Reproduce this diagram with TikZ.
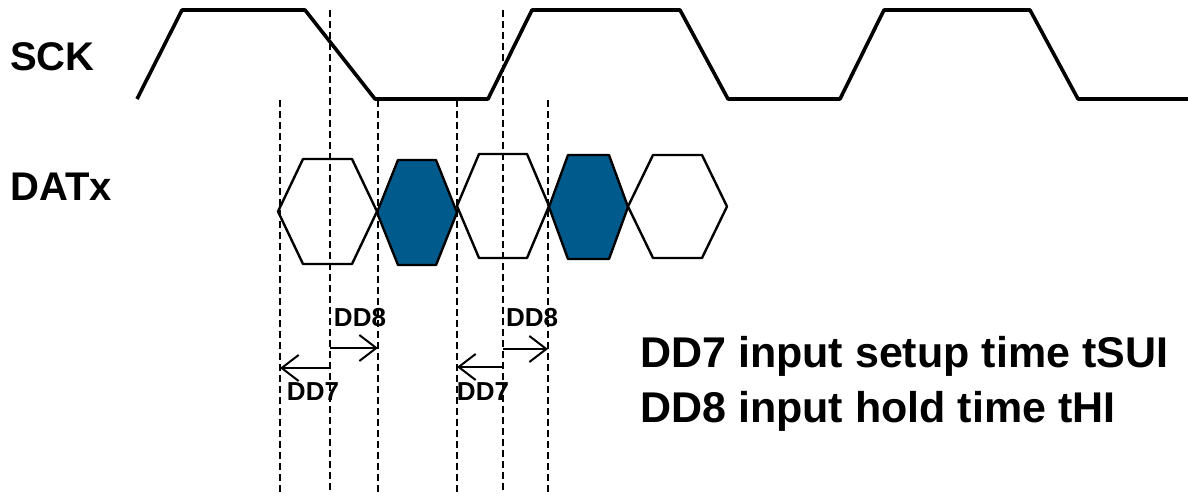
\documentclass[tikz,border=0pt]{standalone}
\usepackage{fontspec}
\setmainfont{Liberation Sans}
\usetikzlibrary{arrows.meta}
\definecolor{datblue}{RGB}{0,91,140}

\begin{document}
\begin{tikzpicture}[>={Straight Barb[length=17pt,width=26pt]},x=1pt,y=-1pt,line join=round,
  sig/.style={line width=3.6pt},
  hexa/.style={line width=2.4pt},
  guide/.style={dash pattern=on 7pt off 4pt,line width=2pt},
  lbl/.style={font=\fontsize{40}{48}\selectfont\bfseries,inner sep=0pt},
  note/.style={font=\fontsize{43}{52}\selectfont\bfseries,inner sep=0pt},
  tlbl/.style={font=\fontsize{26}{30}\selectfont\bfseries,inner sep=0pt}]
  \useasboundingbox (0,0) rectangle (1188,498);
  % signal names
  \node[lbl,anchor=west] (sck) at (10,57) {SCK};
  \node[lbl,anchor=west] (datx) at (10,187) {DATx};
  % clock
  \draw[sig] (137,99) -- (182,10) -- (305,10) -- (375,99) -- (488,99) -- (532,10)
    -- (680,10) -- (728,99) -- (840,99) -- (884,10) -- (1030,10) -- (1078,99) -- (1188,99);
  % data eyes
  \foreach \l/\r/\t/\b/\d/\c in {278/377/159/264/25/white,377/457/160/265/21/datblue,
      457/549/154/258/22/white,549/628/155/259/19/datblue,628/727/155/258/25/white}
    \filldraw[hexa,fill=\c] (\l,{(\t+\b)/2}) -- ({\l+\d},\t) -- ({\r-\d},\t)
      -- (\r,{(\t+\b)/2}) -- ({\r-\d},\b) -- ({\l+\d},\b) -- cycle;
  % guides
  \foreach \x/\y in {280/100,330/10,378/100,457/100,503/10,548/100}
    \draw[guide] (\x,\y) -- (\x,492);
  % timing arrows
  \coordinate (s1) at (330,368); \coordinate (e1) at (280,368);
  \coordinate (h1) at (330,348); \coordinate (f1) at (378,348);
  \coordinate (s2) at (503,367); \coordinate (e2) at (457,367);
  \coordinate (h2) at (503,349); \coordinate (f2) at (548,349);
  \draw[->,line width=2pt] (s1) -- (e1);
  \draw[->,line width=2pt] (h1) -- (f1);
  \draw[->,line width=2pt] (s2) -- (e2);
  \draw[->,line width=2pt] (h2) -- (f2);
  \node[tlbl] (dd8a) at (360,318) {DD8};
  \node[tlbl] (dd7a) at (313,392) {DD7};
  \node[tlbl] (dd8b) at (532,318) {DD8};
  \node[tlbl] (dd7b) at (483,392) {DD7};
  % legend
  \node[note,anchor=base west] (tsu) at (640,367) {DD7 input setup time tSUI};
  \node[note,anchor=base west] (thi) at (640,422) {DD8 input hold time tHI};
\end{tikzpicture}
\end{document}
